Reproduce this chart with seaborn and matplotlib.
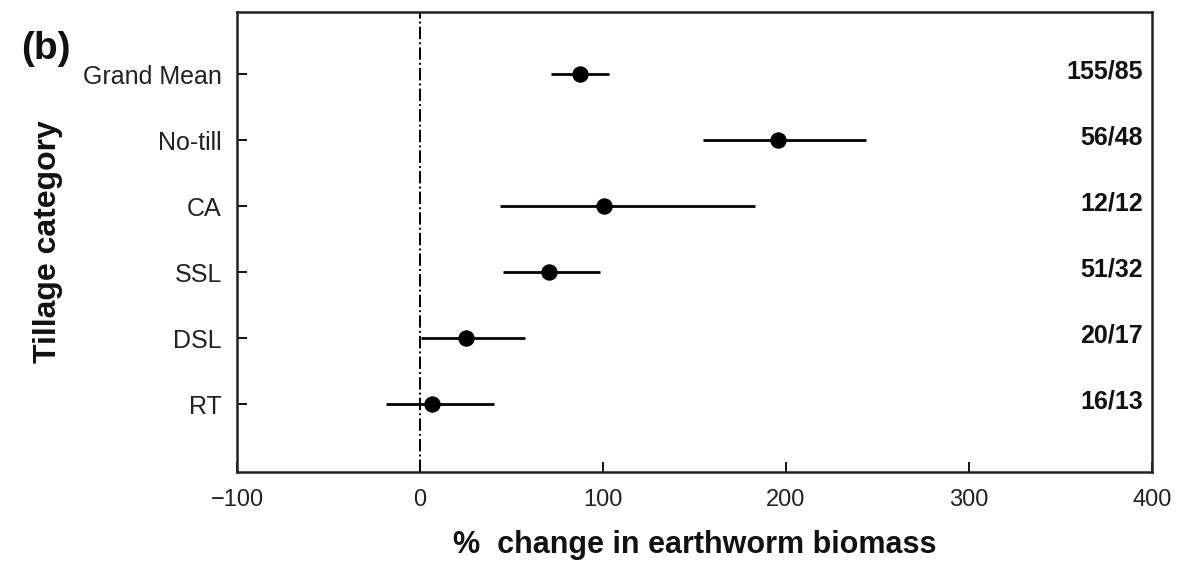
import matplotlib
matplotlib.use("Agg")
import matplotlib.pyplot as plt
import seaborn as sns
import pandas as pd

categories = ["Grand Mean", "No-till", "CA", "SSL", "DSL", "RT"]
effect = [87.5, 195.5, 100.5, 70.5, 25.0, 6.5]
ci_low = [71.5, 154.5, 43.5, 45.5, 0.5, -18.5]
ci_high = [103.0, 243.5, 183.0, 98.5, 57.5, 40.5]
counts = ["155/85", "56/48", "12/12", "51/32", "20/17", "16/13"]
xticks = [-100, 0, 100, 200, 300, 400]

sns.set_theme(style="white")
plt.rcParams["font.family"] = ["Liberation Sans", "DejaVu Sans"]

df = pd.DataFrame({"cat": categories, "eff": effect, "lo": ci_low, "hi": ci_high,
                   "pos": range(len(categories))})

fig = plt.figure(figsize=(11.78, 5.64), dpi=100)
ax = fig.add_axes([0.2012, 0.163, 0.7768, 0.8157])

ax.axvline(0, color="black", lw=1.4, ls="-.", zorder=1)
ax.hlines(df["pos"], df["lo"], df["hi"], color="black", lw=2.0, zorder=2)
sns.scatterplot(data=df, x="eff", y="pos", ax=ax, color="black", s=140,
                edgecolor="black", linewidth=0, zorder=3, legend=False)

for p, c in zip(df["pos"], counts):
    ax.text(395, p - 0.04, c, ha="right", va="center", fontsize=18,
            fontweight="bold", color="#111111")

ax.set_xlim(-100, 400)
ax.set_ylim(6.03, -0.94)
ax.set_xticks(xticks)
ax.set_xticklabels(["\u2212100" if t < 0 else str(t) for t in xticks])
ax.set_yticks(list(df["pos"]))
ax.set_yticklabels(categories)
ax.tick_params(axis="both", direction="in", length=7, width=1.3, color="black",
               labelcolor="#222222")
ax.tick_params(axis="y", labelsize=18, pad=11, left=True)
ax.tick_params(axis="x", labelsize=17, pad=12, bottom=True)
for sp in ax.spines.values():
    sp.set_color("#222222")
    sp.set_linewidth(1.8)
    sp.set_visible(True)

ax.set_xlabel("%  change in earthworm biomass", fontsize=22, fontweight="bold",
              labelpad=14, color="#111111")
ax.set_ylabel("Tillage category", fontsize=23, fontweight="bold", labelpad=14,
              color="#111111")
fig.text(0.018, 0.895, "(b)", fontsize=28, fontweight="bold", color="#111111")

fig.savefig("out.png", dpi=100, facecolor="white")
